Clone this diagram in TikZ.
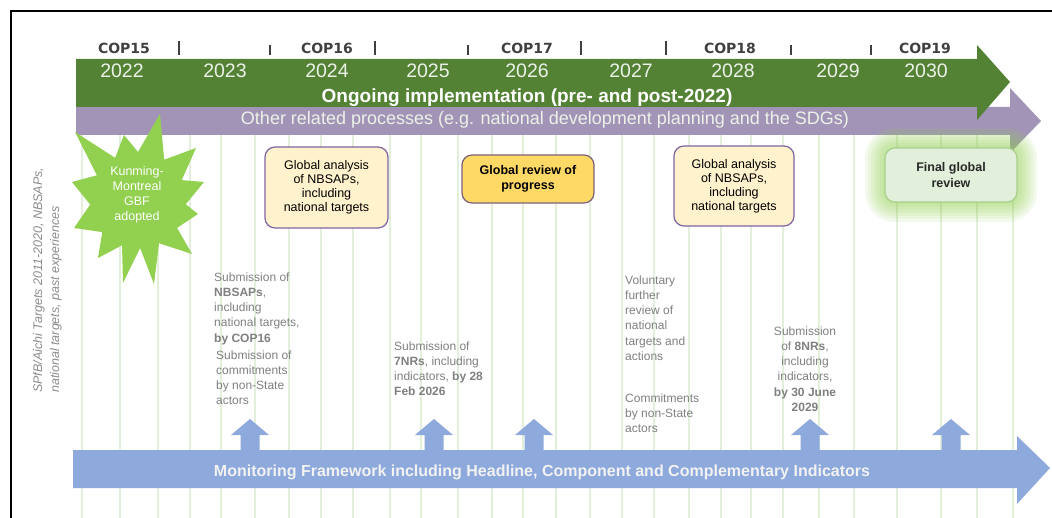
\documentclass[tikz,border=0pt]{standalone}
\usepackage{fontspec}
\setmainfont{Liberation Sans}
\newfontfamily\copfont{DejaVu Sans}
\definecolor{gband}{RGB}{84,130,53}
\definecolor{pband}{RGB}{162,148,182}
\definecolor{bband}{RGB}{142,169,219}
\definecolor{vline}{RGB}{226,239,218}
\definecolor{starg}{RGB}{146,208,80}
\definecolor{cream}{RGB}{255,242,204}
\definecolor{boxpurple}{RGB}{128,100,162}
\definecolor{gold}{RGB}{255,217,102}
\definecolor{goldborder}{RGB}{125,96,120}
\definecolor{lgfill}{RGB}{226,239,218}
\definecolor{lgborder}{RGB}{169,209,142}
\definecolor{txtgray}{RGB}{128,128,128}
\definecolor{rotgray}{RGB}{140,140,140}
\definecolor{copgray}{RGB}{64,64,64}
\definecolor{yrwhite}{RGB}{236,242,232}
\tikzset{
  coplbl/.style={anchor=base, inner sep=0, font=\copfont\bfseries\fontsize{14}{16}\selectfont, text=copgray},
  yrlbl/.style={anchor=base, inner sep=0, font=\fontsize{19.5}{22}\selectfont, text=yrwhite},
  tickmark/.style={draw=copgray, line width=2.2pt},
  gtext/.style={anchor=north west, inner sep=0, align=left, font=\fontsize{12}{15.2}\selectfont, text=txtgray},
  boxtext/.style={font=\fontsize{12.5}{14}\selectfont, align=center, rounded corners=10pt, line width=1.2pt, inner sep=2pt},
  analysisbox/.style={boxtext, draw=boxpurple, fill=cream, minimum width=123pt, minimum height=81pt},
  rottext/.style={anchor=base west, inner sep=0, rotate=90, font=\itshape\fontsize{12.5}{14}\selectfont, text=rotgray}
}
\begin{document}
\begin{tikzpicture}[x=1pt,y=-1pt]
\useasboundingbox (0,0) rectangle (1052,518);
\fill[white] (0,0) rectangle (1052,518);
% vertical guide lines
\foreach \xx in {82,120,158,190,221,255,289,321,353,390,421,458,492,523,556,590,622,654,689,721,751,783,819,854,897,941,977,1013}
  \draw[vline, line width=2.6pt] (\xx,135) -- (\xx,518);
% frame
\draw[line width=2pt] (11,518) -- (11,11) -- (1052,11);
% purple arrow
\fill[pband] (76,107) -- (1010,107) -- (1010,88) -- (1041,121) -- (1010,153) -- (1010,135) -- (76,135) -- cycle;
% green arrow
\fill[gband] (76,59) -- (977,59) -- (977,45) -- (1010,82) -- (977,120) -- (977,107) -- (76,107) -- cycle;
% COP labels and ticks
\node[coplbl] (cop15) at (124,54) {COP15};
\node[coplbl] (cop16) at (327,54) {COP16};
\node[coplbl] (cop17) at (527,54) {COP17};
\node[coplbl] (cop18) at (730,54) {COP18};
\node[coplbl] (cop19) at (925,54) {COP19};
\foreach \xx in {179,375,581,666} \draw[tickmark] (\xx,41) -- (\xx,55);
\foreach \xx in {270,468,791,871} \draw[tickmark] (\xx,45) -- (\xx,55);
% years
\node[yrlbl] (y2022) at (122,78) {2022};
\node[yrlbl] (y2023) at (225,78) {2023};
\node[yrlbl] (y2024) at (327,78) {2024};
\node[yrlbl] (y2025) at (428,78) {2025};
\node[yrlbl] (y2026) at (527,78) {2026};
\node[yrlbl] (y2027) at (631,78) {2027};
\node[yrlbl] (y2028) at (733,78) {2028};
\node[yrlbl] (y2029) at (838,78) {2029};
\node[yrlbl] (y2030) at (926,78) {2030};
\node[anchor=base, inner sep=0, font=\bfseries\fontsize{19}{22}\selectfont, text=white] (ongoing) at (527,103) {Ongoing implementation (pre- and post-2022)};
\node[anchor=base, inner sep=0, font=\fontsize{18}{20}\selectfont, text=yrwhite] (other) at (545,125) {Other related processes (e.g. national development planning and the SDGs)};
% rotated text
\node[rottext] (past1) at (42,393) {SPfB/Aichi Targets 2011-2020, NBSAPs,};
\node[rottext] (past2) at (59,393) {national targets, past experiences};
% star
\fill[starg] (160,114) -- (164.2,159.7) -- (196,148) -- (181.7,180.1) -- (204,182) -- (185.8,204.2) -- (198,214) -- (177.1,227.9) -- (192,254) -- (159,243.2) -- (154,284) -- (140.1,248) -- (123,283) -- (122,245.3) -- (98,258) -- (102.3,232.1) -- (74,228) -- (90.2,204.6) -- (72,182) -- (96.9,175.3) -- (75,132) -- (115.1,157.8) -- (124,135) -- (138,152) -- cycle;
\node[align=center, inner sep=0, font=\fontsize{12.5}{15}\selectfont, text=white] (kmgbf) at (137,195) {Kunming-\\Montreal\\GBF\\adopted};
% boxes
\node[analysisbox] (ga1) at (326.5,187.5) {Global analysis\\of NBSAPs,\\including\\national targets};
\node[boxtext, draw=goldborder, fill=gold, minimum width=132pt, minimum height=48pt, font=\bfseries\fontsize{12.5}{15.5}\selectfont] (review) at (528,179) {Global review of\\progress};
\node[analysisbox, minimum width=120pt, minimum height=80pt] (ga2) at (734,186) {Global analysis\\of NBSAPs,\\including\\national targets};
\foreach \m/\r in {20/30,17/27,14/24,11/21,8/18,5/15,2/12}
  \fill[starg, opacity=0.1, rounded corners=\r pt] (885-\m,148-\m) rectangle (1017+\m,202+\m);
\node[boxtext, draw=lgborder, fill=lgfill, minimum width=132pt, minimum height=54pt, font=\bfseries\fontsize{12.5}{15.5}\selectfont, text={rgb,255:red,40;green,40;blue,40}] (final) at (951,175) {Final global\\review};
% submissions
\node[gtext] (nbsaps) at (214,272.5) {Submission of\\\textbf{NBSAPs},\\including\\national targets,\\\textbf{by COP16}};
\node[gtext] (commit1) at (216,350.5) {Submission of\\commitments\\by non-State\\actors};
\node[gtext] (nr7) at (394,341.5) {Submission of\\\textbf{7NRs}, including\\indicators, \textbf{by 28}\\\textbf{Feb 2026}};
\node[gtext] (volunt) at (625,275.5) {Voluntary\\further\\review of\\national\\targets and\\actions};
\node[gtext] (commit2) at (625,393.5) {Commitments\\by non-State\\actors};
\node[gtext, anchor=north, align=center] (nr8) at (805,326.5) {Submission\\of \textbf{8NRs},\\including\\indicators,\\\textbf{by 30 June}\\\textbf{2029}};
% monitoring arrow
\fill[bband] (73,450) -- (1017,450) -- (1017,436) -- (1050,468) -- (1017,504) -- (1017,488) -- (73,488) -- cycle;
\foreach \xx in {250,434,534,810,951}
  \fill[bband] (\xx-9.5,451) -- (\xx-9.5,435) -- (\xx-19,435) -- (\xx,419) -- (\xx+19,435) -- (\xx+9.5,435) -- (\xx+9.5,451) -- cycle;
\node[anchor=base, inner sep=0, font=\bfseries\fontsize{16}{18}\selectfont, text={rgb,255:red,242;green,242;blue,242}] (monitor) at (542,476) {Monitoring Framework including Headline, Component and Complementary Indicators};
\end{tikzpicture}
\end{document}
